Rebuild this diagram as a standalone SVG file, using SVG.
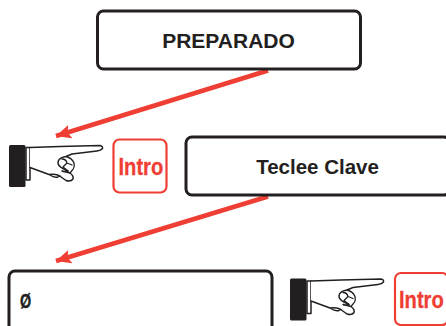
<svg xmlns="http://www.w3.org/2000/svg" width="446" height="326" viewBox="0 0 446 326">
<style>
.box{fill:#fff;stroke:#231f20;stroke-width:3}
.lbl{font-family:"Liberation Sans",Arial,sans-serif;font-weight:bold;font-size:20.5px;fill:#231f20;text-anchor:middle}
.key{fill:#fff;stroke:#ef3e33;stroke-width:2.200}
.keyt{font-family:"Liberation Sans",Arial,sans-serif;font-weight:bold;font-size:24px;fill:#ef3e33;stroke:#ef3e33;stroke-width:.3}
.arr{fill:none;stroke:#ef3e33;stroke-width:4.500}
.hl{fill:#fff;stroke:#231f20;stroke-width:1.500;stroke-linejoin:round;stroke-linecap:round}
.hf{fill:none;stroke:#231f20;stroke-width:1.300;stroke-linecap:round}
</style>
<defs>
<marker id="ah" markerUnits="userSpaceOnUse" markerWidth="16" markerHeight="16" refX="15" refY="8" orient="auto"><path d="M0,1L15,8L0,15L3,8Z" fill="#ef3e33"/></marker>
<g id="hand">
<path class="hl" d="M26,147.500L30,147.500L30,180L26,180Z"/>
<path class="hl" d="M30,147.500L60,146.500L100,145.500Q103,146 102.500,148.500Q101,150.500 97,151L72,154L66,156.500Q58,158 58,162.500Q58,166 63,168.500L68,171Q64,172 62,171L70,173Q74,176 73,179Q71,182 66,180.500L59,175.500Q54,173.500 49,174.500L30,167.500"/>
<path class="hf" d="M66,156.500Q72,158 74,163Q75,168 72,170.500L70,173M62,159Q66,159 67,163L63,167M67,163L72,165M63,167L68,171M50,175Q54,178 58,177L60,176"/>
<rect x="9" y="145" width="16.500" height="42" rx="1.500" fill="#231f20"/>
</g>
</defs>
<g id="connectors">
<path class="arr" d="M268,70.500L56,136" marker-end="url(#ah)"/>
<path class="arr" d="M268,196.500L56,261" marker-end="url(#ah)"/>
</g>
<g id="preparado"><rect class="box" x="97.500" y="11" width="263" height="58" rx="6"/><text class="lbl" x="228.500" y="48" style="font-size:21px">PREPARADO</text></g>
<g id="hand1"><use href="#hand"/></g>
<g id="intro1"><rect class="key" x="113.500" y="139.500" width="53" height="53" rx="6"/><text class="keyt" transform="translate(118.500 175) scale(.84 1)">Intro</text></g>
<g id="teclee"><rect class="box" x="186" y="137" width="264" height="58" rx="6"/><text class="lbl" x="317.500" y="174">Teclee Clave</text></g>
<g id="input"><rect class="box" x="9" y="271" width="263" height="62" rx="6"/><text class="lbl" transform="translate(20 308) scale(.72 1)" style="text-anchor:start;font-size:20px;stroke:#231f20;stroke-width:.4">Ø</text></g>
<g id="hand2"><use href="#hand" x="281" y="133.500"/></g>
<g id="intro2"><rect class="key" x="395" y="273" width="53" height="52" rx="6"/><text class="keyt" transform="translate(399 308) scale(.84 1)">Intro</text></g>
</svg>
